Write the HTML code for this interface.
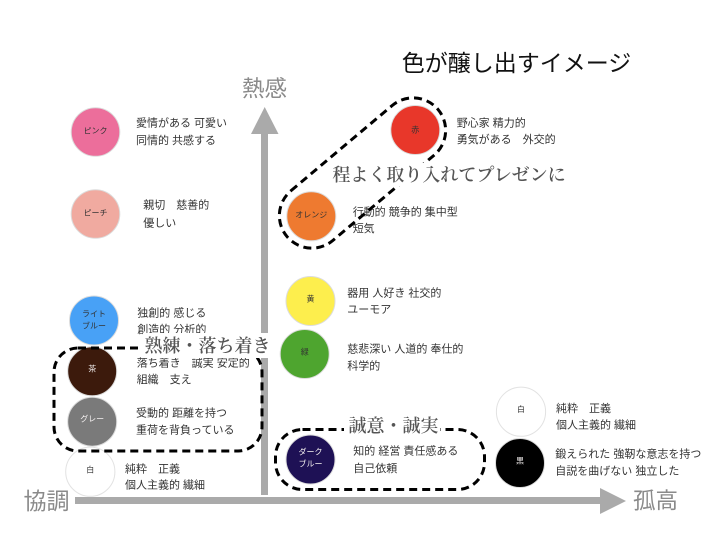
<!DOCTYPE html>
<html lang="ja">
<head>
<meta charset="utf-8">
<style>
  html, body { margin: 0; padding: 0; background: #fff; }
  body { width: 720px; height: 540px; overflow: hidden; }
  svg { display: block; }
  .sans { font-family: "Liberation Sans", "Noto Sans CJK JP", sans-serif; }
  .serif { font-family: "Liberation Serif", "Noto Serif CJK SC", serif; }
  .desc { font-size: 11px; fill: #333; }
  .cl { font-size: 8px; fill: #333; }
  .clw { font-size: 8px; fill: #f4f0f0; }
  .axis { font-size: 23px; fill: #8a8a8a; }
  .grp { font-size: 18px; fill: #555; font-weight: 600; }
</style>
</head>
<body>
<svg width="720" height="540" viewBox="0 0 720 540" xmlns="http://www.w3.org/2000/svg">
  <rect x="0" y="0" width="720" height="540" fill="#fff"/>

  <!-- Axes -->
  <rect x="261" y="130" width="7" height="365" fill="#aaaaaa"/>
  <polygon points="251,134 278.5,134 264.7,107" fill="#aaaaaa"/>
  <rect x="75" y="497" width="527" height="7" fill="#aaaaaa"/>
  <polygon points="600,488 600,514 626,501" fill="#aaaaaa"/>

  <!-- Axis labels -->
  <text class="sans axis" x="264.5" y="89" text-anchor="middle" dominant-baseline="central" style="font-size:22.5px">熱感</text>
  <text class="sans axis" x="46.5" y="501" text-anchor="middle" dominant-baseline="central">協調</text>
  <text class="sans axis" x="655.5" y="501" text-anchor="middle" dominant-baseline="central" style="font-size:22.5px">孤高</text>

  <!-- Title -->
  <text class="sans" x="516.5" y="63" text-anchor="middle" dominant-baseline="central" style="font-size:23px; fill:#111">色が醸し出すイメージ</text>

  <!-- Circles -->
  <g stroke="#dcdcdc" stroke-width="1">
    <circle cx="95.5" cy="132" r="24.3" fill="#EC6E9B"/>
    <circle cx="95.5" cy="214" r="24.3" fill="#F0AAA0"/>
    <circle cx="94" cy="320.5" r="24.5" fill="#48A1F6"/>
    <circle cx="92.2" cy="371.3" r="24.5" fill="#3C1A0C"/>
    <circle cx="92.2" cy="421.7" r="24.5" fill="#7A7A7A"/>
    <circle cx="90.3" cy="471.7" r="24.6" fill="#ffffff" stroke="#e2e2e2"/>
    <circle cx="415.3" cy="130" r="24.5" fill="#E8372A"/>
    <circle cx="311.3" cy="216.3" r="24.5" fill="#EE7A30"/>
    <circle cx="310.5" cy="301" r="24.5" fill="#FDEE4D"/>
    <circle cx="304.7" cy="354" r="24.5" fill="#4EA52F"/>
    <circle cx="310.5" cy="459.5" r="24.5" fill="#1E1155"/>
    <circle cx="521" cy="411.7" r="24.6" fill="#ffffff" stroke="#e2e2e2"/>
    <circle cx="520" cy="463" r="24.5" fill="#000000"/>
  </g>

  <!-- Circle labels -->
  <g class="sans" text-anchor="middle" dominant-baseline="central">
    <text class="cl" x="95.5" y="131">ピンク</text>
    <text class="cl" x="95.5" y="213">ピーチ</text>
    <text class="cl" x="94" y="314">ライト</text>
    <text class="cl" x="94" y="326">ブルー</text>
    <text class="clw" x="92.2" y="369">茶</text>
    <text class="clw" x="92.2" y="419">グレー</text>
    <text class="cl" x="90.3" y="470">白</text>
    <text class="cl" x="415.3" y="130">赤</text>
    <text class="cl" x="311.3" y="215">オレンジ</text>
    <text class="cl" x="310.5" y="299">黄</text>
    <text class="cl" x="304.7" y="352">緑</text>
    <text class="clw" x="310.5" y="452">ダーク</text>
    <text class="clw" x="310.5" y="464">ブルー</text>
    <text class="cl" x="521" y="409.5">白</text>
    <text class="clw" x="520" y="461">黒</text>
  </g>

  <!-- Descriptions -->
  <g class="sans desc" dominant-baseline="central">
    <text x="136" y="123.3">愛情がある 可愛い</text>
    <text x="136" y="141">同情的 共感する</text>
    <text x="143.3" y="205.7">親切　慈善的</text>
    <text x="143.3" y="223.3">優しい</text>
    <text x="137.3" y="313.3">独創的 感じる</text>
    <text x="137.3" y="330">創造的 分析的</text>
    <text x="136.7" y="363.3">落ち着き　誠実 安定的</text>
    <text x="136.7" y="380">組織　支え</text>
    <text x="136" y="413.3">受動的 距離を持つ</text>
    <text x="136" y="430.7">重荷を背負っている</text>
    <text x="125" y="469.3">純粋　正義</text>
    <text x="125" y="485.7">個人主義的 繊細</text>
    <text x="456.7" y="123.3">野心家 精力的</text>
    <text x="456.7" y="140">勇気がある　外交的</text>
    <text x="352.7" y="212.3">行動的 競争的 集中型</text>
    <text x="352.7" y="229">短気</text>
    <text x="347.3" y="293.3">器用 人好き 社交的</text>
    <text x="347.3" y="310">ユーモア</text>
    <text x="347.3" y="349.3">慈悲深い 人道的 奉仕的</text>
    <text x="347.3" y="366.7">科学的</text>
    <text x="353.3" y="451.7">知的 経営 責任感ある</text>
    <text x="353.3" y="469">自己依頼</text>
    <text x="556" y="409">純粋　正義</text>
    <text x="556" y="425.7">個人主義的 繊細</text>
    <text x="555.3" y="454.3">鍛えられた 強靭な意志を持つ</text>
    <text x="555.3" y="471.7">自説を曲げない 独立した</text>
  </g>

  <!-- Dashed groups -->
  <g fill="none" stroke="#000" stroke-width="3" stroke-dasharray="8 5">
    <rect x="54" y="348" width="208" height="103" rx="24" ry="24"/>
    <rect x="275.5" y="429.5" width="209" height="60" rx="27" ry="27"/>
    <g transform="translate(362.5,173) rotate(-40.1)">
      <rect x="-98.7" y="-32.5" width="197.4" height="65" rx="32.5" ry="32.5"/>
    </g>
  </g>

  <!-- Group labels with white backgrounds -->
  <rect x="143" y="333" width="130" height="25" fill="#fff"/>
  <text class="serif grp" x="207.5" y="346" text-anchor="middle" dominant-baseline="central">熟練・落ち着き</text>

  <rect x="330" y="163" width="238" height="23" fill="#fff"/>
  <text class="serif grp" x="449" y="175" text-anchor="middle" dominant-baseline="central">程よく取り入れてプレゼンに</text>

  <rect x="344" y="414" width="96" height="24" fill="#fff"/>
  <text class="serif grp" x="393.5" y="426" text-anchor="middle" dominant-baseline="central">誠意・誠実</text>
</svg>
</body>
</html>
